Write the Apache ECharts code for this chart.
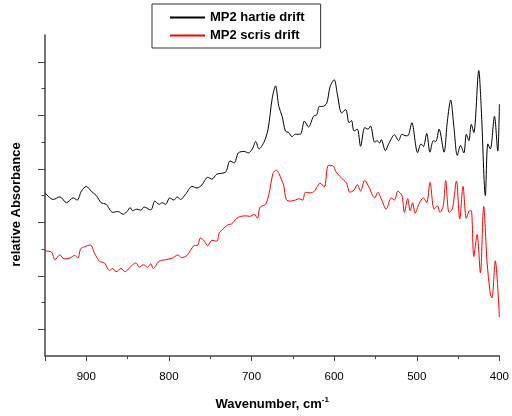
<!DOCTYPE html>
<html>
<head>
<meta charset="utf-8">
<script src="https://cdn.jsdelivr.net/npm/echarts@6/dist/echarts.min.js"></script>
<style>html,body{margin:0;padding:0;background:#fff;}#c{width:512px;height:416px;}</style>
</head>
<body>
<div id="c"></div>
<script>
const seriesNames = ['MP2 hartie drift', 'MP2 scris drift'];
const xTickValues = [900, 800, 700, 600, 500, 400];

const wnBlack = [950,940,932,924,916,911,906,900,894,888,882,876,868,862,855,850,847,844,839,834,830,822,817,812,808,804,799,794,790,786,780,772,766,760,753,748,742,736,731,726,721,716,709,704,699,695,691,685,680,675,671,667,663,659,655,651,647,641,636,631,625,621,618,614,609,605,600,596,591,586,582,579,576,572,568,563,559,556,551,548,545,543,538,534,527,522,518,513,510,506,499,495,492,488,484,480,477,473,467,463,459,455,451,447,443,440,437,434,431,425,422,417,414,411,406,402,400];
const absBlack = [6.10,5.85,5.95,5.73,5.91,5.83,6.16,6.34,6.16,6.00,5.73,5.67,5.37,5.40,5.30,5.43,5.55,5.43,5.49,5.45,5.57,5.46,5.79,5.67,5.73,5.67,5.91,5.83,5.95,5.85,6.04,6.34,6.28,6.40,6.68,6.61,6.80,6.83,6.89,7.29,7.22,7.59,7.65,7.59,7.74,8.02,7.74,7.99,8.48,9.63,10.10,9.33,8.96,8.41,8.35,8.20,8.29,8.29,8.78,8.56,8.96,9.02,9.33,9.33,9.45,10.06,10.33,9.76,9.09,9.21,8.72,8.80,8.41,8.48,7.84,8.54,8.48,8.60,7.99,8.05,7.96,8.09,7.68,7.93,8.27,8.05,8.29,8.23,8.26,8.72,7.60,7.93,7.83,8.32,7.62,8.05,8.02,8.48,7.62,8.78,9.57,8.54,7.50,7.87,7.59,8.29,8.05,8.66,8.35,10.67,9.27,6.00,7.93,7.74,8.96,7.66,9.41];

const wnRed = [950,942,938,932,927,920,914,910,907,902,895,890,884,878,872,868,864,858,853,848,840,836,831,826,822,819,812,804,796,789,785,778,770,765,762,758,753,748,742,739,735,729,724,718,713,707,702,697,693,690,687,683,679,674,670,667,664,661,658,653,647,643,638,635,629,624,617,612,607,601,598,593,589,585,581,576,572,568,563,558,551,547,543,537,531,527,523,518,515,511,508,505,502,497,492,488,484,479,475,472,468,465,461,457,452,448,444,440,436,434,431,427,423,419,415,411,409,405,400];
const absRed = [3.93,3.88,3.60,3.78,3.63,3.66,3.76,3.66,4.00,4.09,4.15,3.84,3.54,3.48,3.20,3.27,3.15,3.27,3.15,3.29,3.48,3.32,3.41,3.32,3.45,3.27,3.54,3.60,3.66,3.78,3.68,3.76,4.12,4.15,4.41,4.33,4.12,4.33,4.29,4.61,4.73,4.90,4.94,5.15,5.22,5.24,5.22,5.30,5.15,5.55,5.61,5.67,6.04,6.83,6.95,6.83,6.61,6.37,5.85,5.79,5.83,5.88,5.83,6.12,6.10,6.16,6.46,6.32,7.13,7.10,6.90,6.71,6.59,6.46,6.12,6.20,6.41,6.17,6.56,6.32,5.91,6.12,5.88,5.49,5.91,5.83,6.16,6.00,5.37,5.88,5.43,5.73,5.34,5.71,5.91,5.73,6.49,5.49,5.61,5.37,5.61,6.56,5.37,5.49,6.54,5.12,6.34,5.15,5.43,5.43,3.72,4.54,3.11,5.59,3.54,2.32,2.17,3.56,1.46];

const yMajorTicks = [1, 3, 5, 7, 9, 11];
const yMinorTicks = [2, 4, 6, 8, 10];

const zip = (xs, ys) => xs.map((x, i) => [x, ys[i]]);
const font = '"Liberation Sans", Arial, sans-serif';
const axisColor = '#444';

const chart = echarts.init(document.getElementById('c'), null, {renderer: 'canvas'});
chart.setOption({
  animation: false,
  backgroundColor: '#fff',
  grid: {left: 45, right: 10, top: 35, bottom: 53, containLabel: false},
  legend: {
    orient: 'vertical',
    left: 152, top: 4,
    padding: [7, 16, 6, 17],
    itemWidth: 35, itemHeight: 14, itemGap: 5,
    borderColor: '#333', borderWidth: 1, backgroundColor: '#fff',
    itemStyle: {opacity: 0},
    textStyle: {fontFamily: font, fontWeight: 'bold', fontSize: 13, color: '#000'},
    data: seriesNames
  },
  xAxis: {
    type: 'value', inverse: true, min: 400, max: 950, interval: 100,
    axisLine: {show: true, onZero: false, lineStyle: {color: axisColor, width: 1.5}},
    axisTick: {show: true, inside: false, length: 5, lineStyle: {color: axisColor, width: 1}},
    minorTick: {show: true, splitNumber: 2, length: 3, lineStyle: {color: axisColor, width: 1}},
    axisLabel: {show: true, margin: 15, fontFamily: font, fontSize: 11.5, color: '#000', showMaxLabel: false,
      formatter: v => xTickValues.includes(v) ? String(v) : ''},
    splitLine: {show: false},
    name: '{a|Wavenumber, cm}{b|-1}',
    nameLocation: 'middle', nameGap: 40,
    nameTextStyle: {
      rich: {
        a: {fontFamily: font, fontWeight: 'bold', fontSize: 13, color: '#000'},
        b: {fontFamily: font, fontWeight: 'bold', fontSize: 8, color: '#000', padding: [0, 0, 9, 0]}
      }
    }
  },
  yAxis: [{
    type: 'value', min: 0, max: 12,
    axisLine: {show: true, lineStyle: {color: axisColor, width: 1.5}},
    axisTick: {show: true, length: 7, customValues: yMajorTicks, lineStyle: {color: axisColor, width: 1}},
    axisLabel: {show: false},
    splitLine: {show: false},
    name: 'relative Absorbance',
    nameLocation: 'middle', nameGap: 22, nameRotate: 90,
    nameTextStyle: {fontFamily: font, fontWeight: 'bold', fontSize: 13, color: '#000', padding: [0, 18, 0, 0]}
  }, {
    type: 'value', min: 0, max: 12, position: 'left',
    axisLine: {show: false},
    axisTick: {show: true, length: 3.5, customValues: yMinorTicks, lineStyle: {color: axisColor, width: 1}},
    axisLabel: {show: false},
    splitLine: {show: false}
  }],
  series: [{
    name: seriesNames[0], type: 'line', symbol: 'none', smooth: 0.3,
    lineStyle: {color: '#000', width: 1}, itemStyle: {color: '#000'},
    data: zip(wnBlack, absBlack)
  }, {
    name: seriesNames[1], type: 'line', symbol: 'none', smooth: 0.3,
    lineStyle: {color: '#ff0000', width: 1}, itemStyle: {color: '#ff0000'},
    data: zip(wnRed, absRed)
  }]
});
</script>
</body>
</html>
